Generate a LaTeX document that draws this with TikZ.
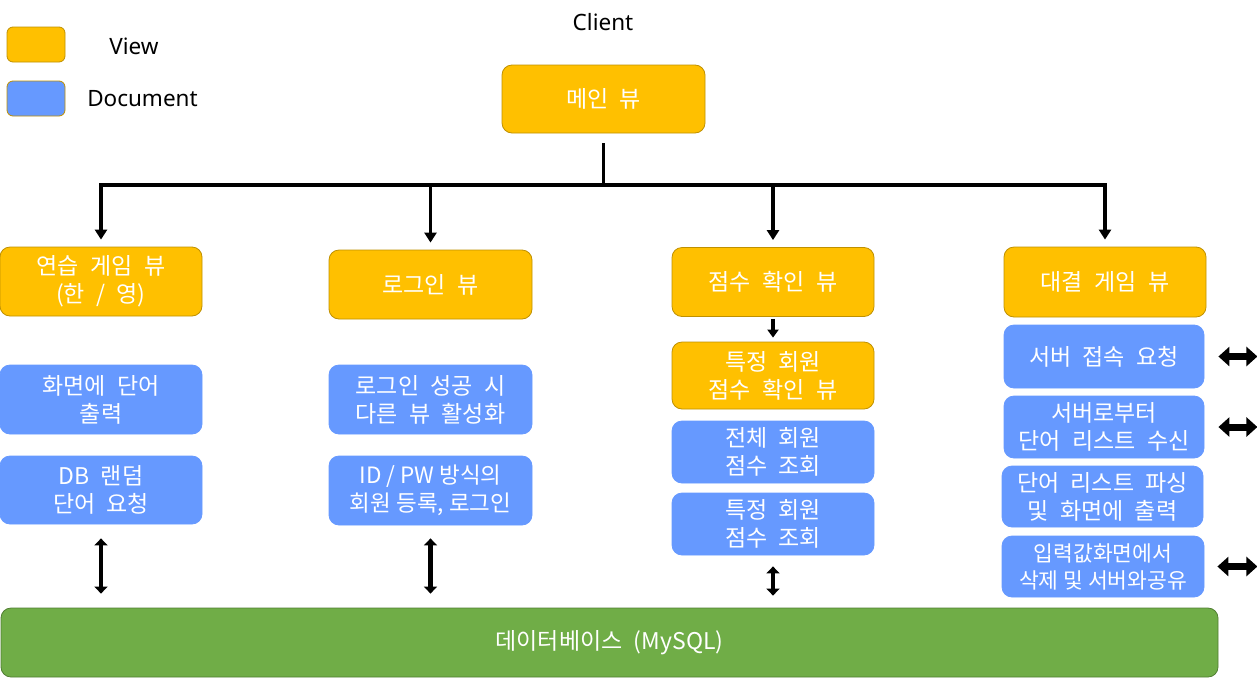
\documentclass[tikz,border=0pt]{standalone}
\usepackage{fontspec}
\setmainfont[WordSpace=2.2]{Noto Sans CJK KR}
\newfontfamily\krn{Noto Sans CJK KR}
\newfontfamily\lat{Noto Sans}
\usetikzlibrary{arrows.meta}
\definecolor{vfill}{HTML}{FFC000}
\definecolor{vdraw}{HTML}{BF9000}
\definecolor{dfill}{HTML}{6699FF}
\definecolor{gfill}{HTML}{70AD47}
\definecolor{gdraw}{HTML}{507E32}
\definecolor{adraw}{HTML}{1F2A44}
\begin{document}
\begin{tikzpicture}[x=1pt,y=-1pt,
 box/.style={rounded corners=10pt, inner sep=0pt, align=center, text=white,
   font=\fontsize{23}{28}\selectfont, line width=0.8pt},
 viewbox/.style={box, fill=vfill, draw=vdraw},
 docbox/.style={box, fill=dfill, draw=dfill},
 sz/.style 2 args={minimum width=#1pt, minimum height=#2pt},
 tree/.style={line width=3.3pt, draw=black},
 treearrow/.style={tree, -{Triangle[width=12pt,length=10pt]}, shorten >=7pt},
 varrow/.style={{Triangle[width=13pt,length=7pt]}-{Triangle[width=13pt,length=7pt]}, line width=4.5pt, draw=black},
 harrow/.style={{Triangle[width=19pt,length=11pt]}-{Triangle[width=19pt,length=11pt]}, line width=7pt, draw=black},
 legtext/.style={font=\lat\fontsize{22.5}{27}\selectfont, inner sep=0pt},
]
\useasboundingbox (0,0) rectangle (1257,678);

% legend
\node[viewbox, sz={58}{35}, rounded corners=6pt] (lv) at (36,44.5) {};
\node[box, fill=dfill, draw=vdraw, sz={58}{35}, rounded corners=6pt] (ld) at (36,98.5) {};
\node[legtext] (lvt) at (134,46) {View};
\node[legtext] (ldt) at (142.5,99) {Document};
\node[legtext] (client) at (603,22) {Client};

% main
\node[viewbox, sz={203}{68}] (main) at (603.5,99) {메인 뷰};

% views
\node[viewbox, sz={202}{69}] (n1) at (101,281.5) {연습 게임 뷰\\(한 / 영)};
\node[viewbox, sz={203}{69}] (n2) at (430.5,284.5) {로그인 뷰};
\node[viewbox, sz={202}{69}] (n3) at (773,282) {점수 확인 뷰};
\node[viewbox, sz={202}{70}] (n4) at (1105,282) {대결 게임 뷰};

% column 1
\node[docbox, sz={202}{69}] (d11) at (101,399.5) {화면에 단어\\출력};
\node[docbox, sz={202}{68}] (d12) at (101,490) {DB 랜덤\\단어 요청};

% column 2
\node[docbox, sz={203}{69}] (d21) at (430.5,399.5) {로그인 성공 시\\다른 뷰 활성화};
\node[docbox, sz={203}{69}, font=\krn\fontsize{22.5}{28}\selectfont] (d22) at (430.5,490.5) {ID / PW 방식의\\회원 등록, 로그인};

% column 3
\node[viewbox, sz={202}{67}] (v31) at (773,375.5) {특정 회원\\점수 확인 뷰};
\node[docbox, sz={202}{62}] (d31) at (773,452) {전체 회원\\점수 조회};
\node[docbox, sz={202}{62}] (d32) at (773,524) {특정 회원\\점수 조회};

% column 4
\node[docbox, sz={200}{63}] (d41) at (1104,356.5) {서버 접속 요청};
\node[docbox, sz={200}{62}] (d42) at (1104,427) {서버로부터\\단어 리스트 수신};
\node[docbox, sz={201}{61}] (d43) at (1102.5,496.5) {단어 리스트 파싱\\및 화면에 출력};
\node[docbox, sz={202}{61}, font=\krn\fontsize{21.5}{27}\selectfont] (d44) at (1103,566.5) {입력값화면에서\\삭제 및 서버와공유};

% database
\node[box, fill=gfill, draw=gdraw, sz={1217}{69}] (db) at (609.5,642.5) {데이터베이스 (MySQL)};

% tree connectors
\coordinate (hub) at (603.5,185);
\draw[tree, shorten <=10pt] (main.south) -- (main.south |- hub);
\draw[treearrow] (hub) -| (n1.north);
\draw[treearrow] (hub) -| (n4.north);
\draw[treearrow] (n2.north |- hub) -- (n2.north);
\draw[treearrow] (n3.north |- hub) -- (n3.north);

% score view arrow
\draw[line width=3.5pt, -{Triangle[width=11pt,length=8pt]}, shorten <=2pt, shorten >=4pt] (n3.south) -- (v31.north);

% database arrows
\draw[varrow, shorten <=14pt, shorten >=14pt] (d12.south) -- (d12.south |- db.north);
\draw[varrow, shorten <=13pt, shorten >=14pt] (d22.south) -- (d22.south |- db.north);
\draw[varrow, shorten <=11pt, shorten >=12pt] (d32.south) -- (d32.south |- db.north);

% server arrows
\path (d41.east) ++(53,0) coordinate (r1);
\path (d42.east) ++(53,0) coordinate (r2);
\path (d44.east) ++(53,0) coordinate (r4);
\draw[harrow, shorten <=14pt] (d41.east) -- (r1);
\draw[harrow, shorten <=14pt] (d42.east) -- (r2);
\draw[harrow, shorten <=13pt] (d44.east) -- (r4);
\end{tikzpicture}
\end{document}
